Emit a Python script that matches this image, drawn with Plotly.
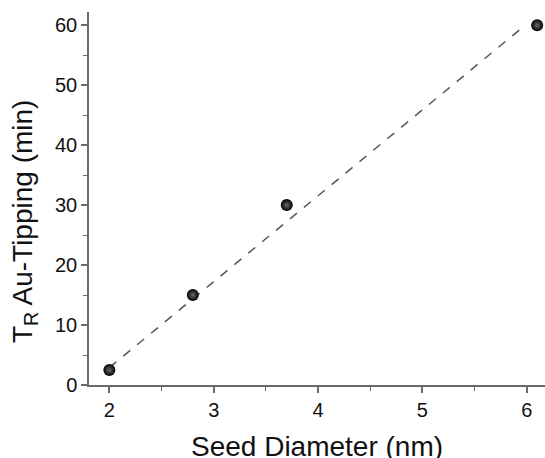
import plotly.graph_objects as go

seed_diameter = [2.0, 2.8, 3.7, 6.1]
tipping_time = [2.5, 15.0, 30.0, 60.0]
fit_x = [2.0, 5.93]
fit_y = [2.9, 59.2]

x_ticks = [2, 3, 4, 5, 6]
y_ticks = [0, 10, 20, 30, 40, 50, 60]

fig = go.Figure()
fig.add_trace(go.Scatter(
    x=fit_x, y=fit_y, mode="lines",
    line=dict(color="#555555", width=1.5, dash="dash"),
    showlegend=False, hoverinfo="skip"))
fig.add_trace(go.Scatter(
    x=seed_diameter, y=tipping_time, mode="markers", cliponaxis=False,
    marker=dict(size=12, color="#000000",
                gradient=dict(type="radial", color="#6a6a6a"),
                line=dict(width=0)),
    showlegend=False))

font_family = "Liberation Sans, Arial, sans-serif"
axis_common = dict(
    showline=True, linecolor="#6a6a6a", linewidth=1.5,
    ticks="outside", ticklen=6, tickwidth=1.5, tickcolor="#6a6a6a",
    showgrid=False, zeroline=False,
    tickfont=dict(family=font_family, size=20, color="#111111"),
    minor=dict(ticks="outside", ticklen=4, tickwidth=1.2, tickcolor="#6a6a6a", showgrid=False),
)

fig.update_xaxes(range=[1.805, 6.175], tickvals=x_ticks,
                 minor_dtick=0.5, minor_tick0=0, **axis_common)
fig.update_yaxes(range=[0, 62.2], tickvals=y_ticks,
                 minor_dtick=5, minor_tick0=0, **axis_common)

fig.add_annotation(
    text="T<sub>R</sub> Au-Tipping (min)", textangle=-90,
    xref="paper", yref="paper", x=0, y=0.437, xshift=-64,
    xanchor="center", yanchor="middle", showarrow=False,
    font=dict(family=font_family, size=28, color="#111111"))
fig.add_annotation(
    text="Seed Diameter (nm)",
    xref="paper", yref="paper", x=0.5, y=0, yshift=-61,
    xanchor="center", yanchor="middle", showarrow=False,
    font=dict(family=font_family, size=28, color="#111111"))

fig.update_layout(
    width=545, height=458,
    margin=dict(l=89, r=0, t=12, b=73),
    paper_bgcolor="white", plot_bgcolor="white",
)

fig.write_html("out.html", config={"displayModeBar": False},
               post_script="document.body.style.margin='0';document.body.style.overflow='hidden';")
